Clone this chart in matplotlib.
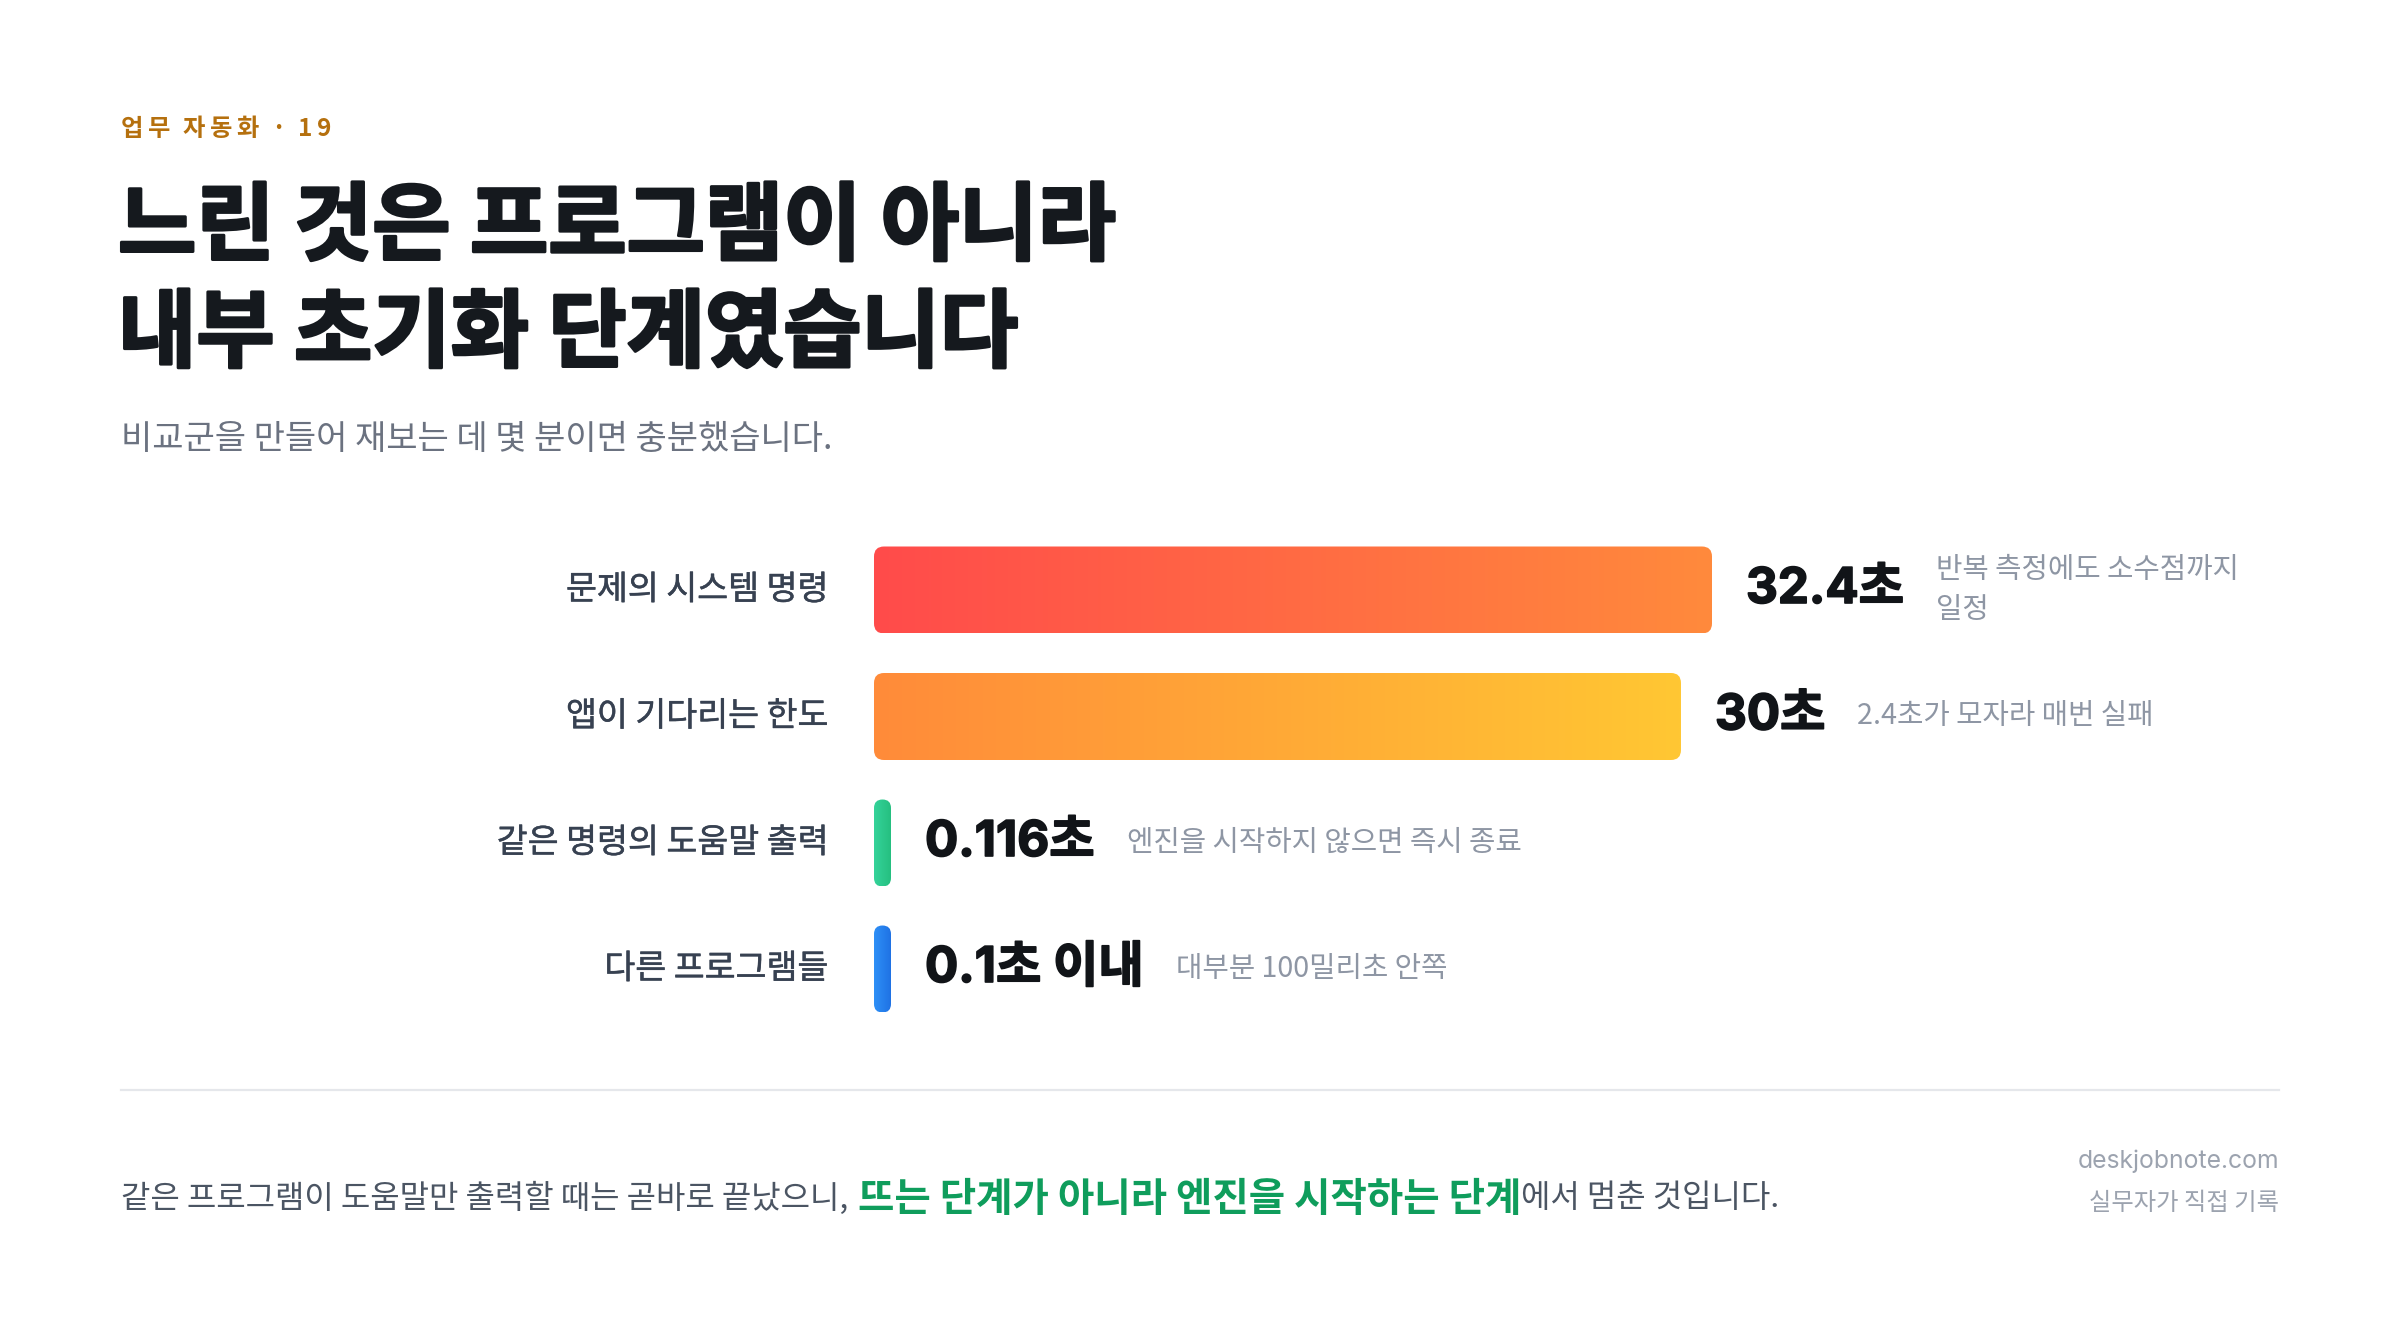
import numpy as np
import matplotlib
matplotlib.use('Agg')
import matplotlib.pyplot as plt
import matplotlib.patheffects as pe
from matplotlib.patches import FancyBboxPatch
from matplotlib.colors import to_rgb

KR = ['Noto Sans CJK KR', 'DejaVu Sans']
NUM = ['Inter', 'Noto Sans CJK KR', 'DejaVu Sans']

# 텍스트와 데이터
kicker = '업무 자동화 · 19'
title_lines = ['느린 것은 프로그램이 아니라', '내부 초기화 단계였습니다']
subtitle = '비교군을 만들어 재보는 데 몇 분이면 충분했습니다.'

labels = ['문제의 시스템 명령', '앱이 기다리는 한도', '같은 명령의 도움말 출력', '다른 프로그램들']
values = [32.4, 30.0, 0.116, 0.1]
value_texts = ['32.4초', '30초', '0.116초', '0.1초 이내']
notes = ['반복 측정에도 소수점까지\n일정', '2.4초가 모자라 매번 실패',
         '엔진을 시작하지 않으면 즉시 종료', '대부분 100밀리초 안쪽']
bar_colors = [('#FF4B4B', '#FF8A3C'), ('#FF8B3A', '#FFC733'),
              ('#35D39A', '#25BF80'), ('#2E90F7', '#1F72E4')]

footer_plain1 = '같은 프로그램이 도움말만 출력할 때는 곧바로 끝났으니, '
footer_green = '뜨는 단계가 아니라 엔진을 시작하는 단계'
footer_plain2 = '에서 멈춘 것입니다.'
site = 'deskjobnote.com'
byline = '실무자가 직접 기록'

# 캔버스 (픽셀 좌표, y는 아래로)
W, H = 2400, 1328
fig = plt.figure(figsize=(W / 100, H / 100), dpi=100)
fig.patch.set_facecolor('white')
ax = fig.add_axes([0, 0, 1, 1])
ax.set_xlim(0, W)
ax.set_ylim(H, 0)
ax.axis('off')
renderer = fig.canvas.get_renderer()

LEFT = 121

# 자간을 넓힌 상단 라벨
x = LEFT
for ch in kicker:
    if ch == ' ':
        x += 8
        continue
    t = ax.text(x, 129, ch, fontsize=17.5, fontweight='bold', color='#B5700E',
                family=KR, va='center', ha='left')
    x += t.get_window_extent(renderer).width + 4.5

bold_fx = [pe.withStroke(linewidth=2.2, foreground='#15191E')]
ax.text(LEFT - 3, 228, title_lines[0], fontsize=61.3, fontweight='bold', color='#15191E',
        family=KR, va='center', ha='left', path_effects=bold_fx)
ax.text(LEFT - 3, 335, title_lines[1], fontsize=61.3, fontweight='bold', color='#15191E',
        family=KR, va='center', ha='left', path_effects=bold_fx)
ax.text(LEFT, 439, subtitle, fontsize=24.5, color='#6B7280', family=KR, va='center', ha='left')

# 막대 길이용 로그 축
BAR_X0, BAR_FULL = 874, 838
MIN_W = 17
sx = fig.add_axes([BAR_X0 / W, 0.005, BAR_FULL / W, 0.005])
sx.set_xscale('log')
sx.set_xlim(4.05, 32.4)
sx.axis('off')

row_y = [590, 716.5, 843, 969]
bar_h = 87
grad = np.linspace(0, 1, 256)

for i, (lab, v, vt, note) in enumerate(zip(labels, values, value_texts, notes)):
    yc = row_y[i]
    x_end = sx.transData.transform((v, 1))[0]
    w = max(x_end - BAR_X0, MIN_W)
    r = 10 if w > 40 else w / 2
    c0, c1 = np.array(to_rgb(bar_colors[i][0])), np.array(to_rgb(bar_colors[i][1]))
    img = (c0[None, :] * (1 - grad[:, None]) + c1[None, :] * grad[:, None])[None, :, :]
    im = ax.imshow(img, extent=(BAR_X0, BAR_X0 + w, yc + bar_h / 2, yc - bar_h / 2),
                   aspect='auto', interpolation='bilinear', zorder=2)
    patch = FancyBboxPatch((BAR_X0, yc - bar_h / 2), w, bar_h,
                           boxstyle=f'round,pad=0,rounding_size={r}',
                           facecolor='none', edgecolor='none', transform=ax.transData)
    ax.add_patch(patch)
    im.set_clip_path(patch)

    ax.text(828, yc, lab, fontsize=24.2, color='#374151',
            family=KR, va='center', ha='right',
            path_effects=[pe.withStroke(linewidth=0.35, foreground='#374151')])
    t = ax.text(BAR_X0 + w + 34, yc, vt, fontsize=35.5, fontweight='bold', color='#111418',
                family=NUM, va='center', ha='left',
                path_effects=[pe.withStroke(linewidth=1.2, foreground='#111418')])
    bb = t.get_window_extent(renderer)
    ax.text(bb.x1 + 32, yc, note, fontsize=20.7, color='#8E96A4', family=KR,
            va='center', ha='left', linespacing=1.4)

ax.set_xlim(0, W)
ax.set_ylim(H, 0)

# 구분선
ax.plot([LEFT, 2279], [1090, 1090], color='#E5E7EB', lw=1.6)

# 하단 문장
t1 = ax.text(LEFT, 1195, footer_plain1, fontsize=23, color='#4B5563', family=KR,
             va='center_baseline', ha='left')
bb = t1.get_window_extent(renderer)
t2 = ax.text(bb.x1 + 2, 1195, footer_green, fontsize=28.5, fontweight='bold', color='#0F9D5C',
             family=KR, va='center_baseline', ha='left')
bb = t2.get_window_extent(renderer)
ax.text(bb.x1, 1195, footer_plain2, fontsize=23, color='#4B5563', family=KR,
        va='center_baseline', ha='left')

ax.text(2279, 1161, site, fontsize=17.8, color='#9CA3AF', family=NUM, va='center', ha='right')
ax.text(2279, 1203, byline, fontsize=17.5, color='#9CA3AF', family=KR, va='center', ha='right')

fig.savefig('out.png', dpi=100, facecolor='white')
